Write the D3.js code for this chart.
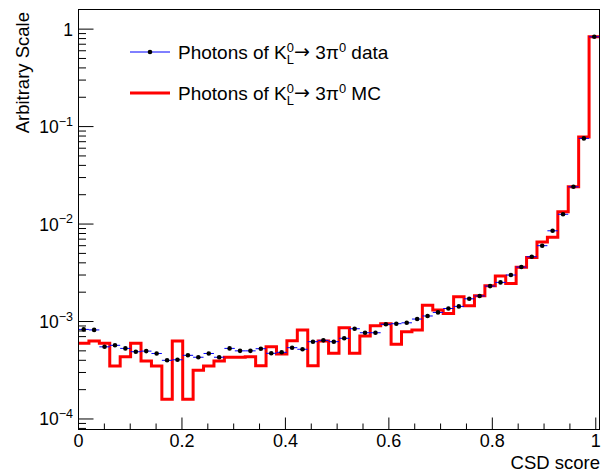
<!DOCTYPE html>
<html>
<head>
<meta charset="utf-8">
<script src="https://cdn.jsdelivr.net/npm/d3@7"></script>
<style>
body { margin: 0; background: #fff; }
svg { display: block; font-family: "Liberation Sans", Arial, Helvetica, sans-serif; }
text { white-space: pre; }
</style>
</head>
<body>
<svg id="chart"></svg>
<script>
// bin contents, 50 bins of CSD score
var dataVals = [8.3e-4, 8.2e-4, 5.5e-4, 5.7e-4, 5.3e-4, 4.9e-4, 4.97e-4, 4.7e-4, 4.0e-4, 4.05e-4,
                4.5e-4, 4.3e-4, 4.7e-4, 4.3e-4, 5.3e-4, 5.0e-4, 5.0e-4, 5.26e-4, 4.72e-4, 4.83e-4,
                5.39e-4, 5.19e-4, 6.21e-4, 6.41e-4, 6.21e-4, 6.73e-4, 8.43e-4, 7.67e-4, 7.67e-4, 9.36e-4,
                9.5e-4, 9.7e-4, 1.06e-3, 1.14e-3, 1.24e-3, 1.36e-3, 1.43e-3, 1.71e-3, 1.83e-3, 2.31e-3,
                2.52e-3, 3.0e-3, 3.62e-3, 4.62e-3, 6.0e-3, 8.53e-3, 1.26e-2, 2.41e-2, 7.57e-2, 0.834];
var mcVals = [6.0e-4, 6.3e-4, 6.0e-4, 3.5e-4, 4.35e-4, 6.0e-4, 3.93e-4, 3.5e-4, 1.59e-4, 6.3e-4,
              1.59e-4, 3.16e-4, 3.5e-4, 3.93e-4, 4.3e-4, 4.3e-4, 4.35e-4, 3.52e-4, 5.52e-4, 4.64e-4,
              6.36e-4, 8.18e-4, 3.52e-4, 6.3e-4, 4.72e-4, 8.63e-4, 4.72e-4, 7.1e-4, 9.06e-4, 9.5e-4,
              5.84e-4, 7.86e-4, 8.18e-4, 1.47e-3, 1.31e-3, 1.21e-3, 1.8e-3, 1.45e-3, 1.84e-3, 2.33e-3,
              2.93e-3, 2.46e-3, 3.6e-3, 4.55e-3, 6.54e-3, 7.31e-3, 1.34e-2, 2.41e-2, 7.8e-2, 0.834];
var xTicks = [0, 0.2, 0.4, 0.6, 0.8, 1];
var yDecades = [0, -1, -2, -3, -4];

var W = 612, H = 473;
var padL = 78.5, padR = 599.5, padT = 9.5, padB = 429.5;
var xMax = 1.0072;
var nBins = dataVals.length;
var bw = xMax / nBins;

var svg = d3.select('#chart').attr('width', W).attr('height', H);

var x = d3.scaleLinear().domain([0, xMax]).range([padL, padR]);
var y = d3.scaleLog().domain([7.8e-5, 1.59]).range([padB, padT]);

// x ticks
var xt = svg.append('g');
d3.range(0, 21).forEach(function(i) {
    var v = i * 0.05;
    var major = (i % 4 == 0);
    xt.append('line')
	.attr('x1', x(v)).attr('x2', x(v))
	.attr('y1', padB).attr('y2', padB - (major ? 12 : 6))
	.attr('stroke', '#000');
});
xTicks.forEach(function(v) {
    xt.append('text')
	.attr('x', x(v)).attr('y', padB + 17)
	.attr('text-anchor', 'middle')
	.style('font-size', '18px')
	.text(d3.format('~g')(v));
});

// y ticks
var yt = svg.append('g');
yDecades.forEach(function(e) {
    var base = Math.pow(10, e);
    yt.append('line')
	.attr('x1', padL).attr('x2', padL + 15)
	.attr('y1', y(base)).attr('y2', y(base))
	.attr('stroke', '#000');
    d3.range(2, 10).forEach(function(k) {
	[base * k, base * k / 10].forEach(function(v) {
	    if (v < y.domain()[0] || v > y.domain()[1] || (e != -4 && v < base)) return;
	    yt.append('line')
		.attr('x1', padL).attr('x2', padL + 7.5)
		.attr('y1', y(v)).attr('y2', y(v))
		.attr('stroke', '#000');
	});
    });
    var t = yt.append('text')
	.attr('x', 73).attr('y', y(base) + 6.5)
	.attr('text-anchor', 'end')
	.style('font-size', '17.5px');
    if (e == 0) {
	t.text('1');
    } else {
	t.append('tspan').text('10');
	t.append('tspan').attr('dy', -7.5).style('font-size', '12.5px').text('\u2212' + (-e));
    }
});

// MC histogram
var steps = mcVals.map(function(v, i) { return [i * bw, v]; });
steps.push([xMax, mcVals[nBins - 1]]);
svg.append('path')
    .datum(steps)
    .attr('d', d3.line().x(function(d) { return x(d[0]); }).y(function(d) { return y(d[1]); }).curve(d3.curveStepAfter))
    .attr('fill', 'none').attr('stroke', '#ff0000').attr('stroke-width', 3);

// data points
var pts = svg.append('g');
dataVals.forEach(function(v, i) {
    pts.append('line')
	.attr('x1', x(i * bw)).attr('x2', x((i + 1) * bw))
	.attr('y1', y(v)).attr('y2', y(v))
	.attr('stroke', '#0000ff').attr('stroke-width', 1);
});
dataVals.forEach(function(v, i) {
    pts.append('circle')
	.attr('cx', x((i + 0.5) * bw)).attr('cy', y(v))
	.attr('r', 2.3).attr('fill', '#000');
});

// frame
svg.append('rect')
    .attr('x', padL).attr('y', padT)
    .attr('width', padR - padL).attr('height', padB - padT)
    .attr('fill', 'none').attr('stroke', '#000').attr('stroke-width', 1);

// text with sub/superscripts laid out piece by piece
function richText(g, x0, yb, parts, size) {
    var cx = x0;
    parts.forEach(function(p) {
	var t = g.append('text')
	    .attr('x', cx).attr('y', yb + (p.dy || 0))
	    .style('font-size', (p.s || 1) * size + 'px')
	    .text(p.t);
	if (p.font) t.style('font-family', p.font);
	if (!p.hold) cx += t.node().getComputedTextLength();
    });
}

var legend = svg.append('g');
var legendRows = [
    {y: 52, tail: ' data', color: '#0000ff', width: 1, dot: true},
    {y: 93, tail: ' MC', color: '#ff0000', width: 3, dot: false}
];
legendRows.forEach(function(r) {
    legend.append('line')
	.attr('x1', 130).attr('x2', 170)
	.attr('y1', r.y).attr('y2', r.y)
	.attr('stroke', r.color).attr('stroke-width', r.width);
    if (r.dot) legend.append('circle').attr('cx', 150).attr('cy', r.y).attr('r', 2.3).attr('fill', '#000');
    richText(legend, 178, r.y + 7, [
	{t: 'Photons of K'},
	{t: '0', s: 0.68, dy: -7.5, hold: true},
	{t: 'L', s: 0.68, dy: 5},
	{t: '\u2192', font: '"DejaVu Sans", sans-serif', dy: -1},
	{t: ' 3\u03c0'},
	{t: '0', s: 0.68, dy: -7.5},
	{t: r.tail}
    ], 19);
});

// axis titles
svg.append('text')
    .attr('x', 600).attr('y', 469)
    .attr('text-anchor', 'end')
    .style('font-size', '18.5px')
    .text('CSD score');

svg.append('text')
    .attr('transform', 'translate(29,12) rotate(-90)')
    .attr('text-anchor', 'end')
    .style('font-size', '18.5px')
    .text('Arbitrary Scale');
</script>
</body>
</html>
